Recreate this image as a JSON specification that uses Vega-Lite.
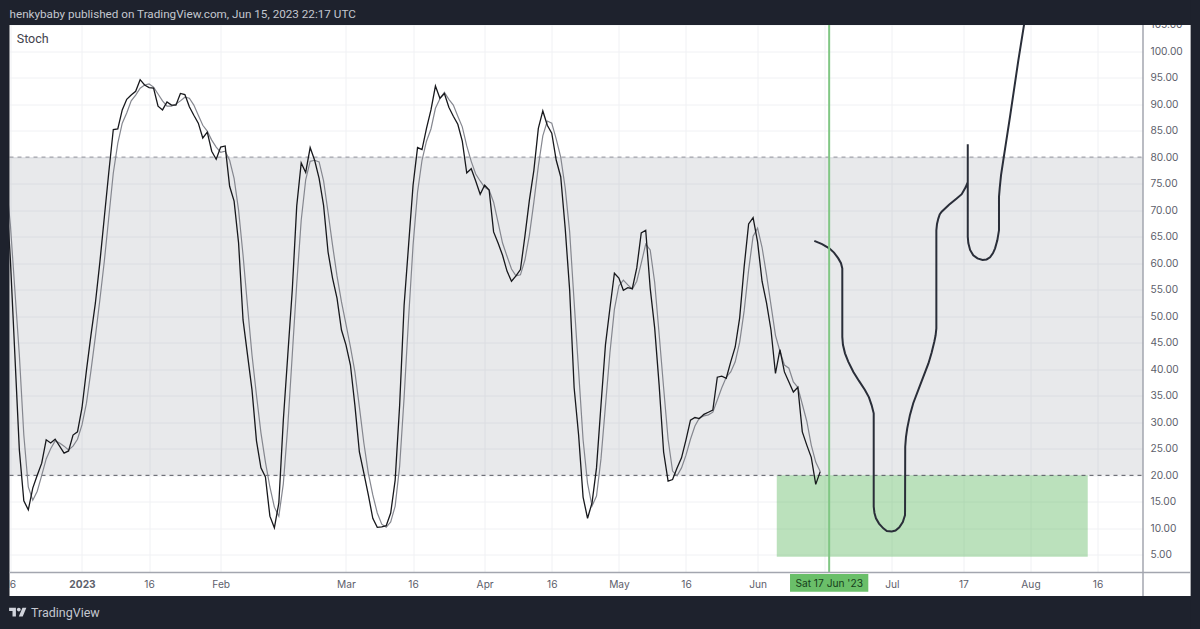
{
  "$schema": "https://vega.github.io/schema/vega-lite/v6.json",
  "description": "Hand drawn Stoch projection, TradingView snapshot",
  "background": "white",
  "autosize": "none",
  "padding": {"left": 9.5, "right": 57, "top": 24.5, "bottom": 56.5},
  "width": 1133.5,
  "height": 548,
  "config": {"view": {"stroke": null}, "text": {"font": "Roboto"}},
  "encoding": {
    "x": {"field": "date", "type": "temporal",
      "scale": {"type": "utc", "domain": ["2022-12-15T19:12:00Z", "2023-08-26T03:30:00Z"], "nice": false},
      "axis": {"title": null, "domain": false, "ticks": false, "gridColor": "#f0f1f4", "labelColor": "#5d606b", "labelFont": "Inter", "labelFontSize": 10.2, "labelPadding": 7, "labelOverlap": false, "labelFlush": false,
        "labelFontWeight": {"condition": {"test": "utcmonth(datum.value) == 0 && utcdate(datum.value) == 1", "value": "bold"}, "value": "normal"},
        "values": ["2022-12-16T00:00:00Z", "2023-01-01T00:00:00Z", "2023-01-16T00:00:00Z", "2023-02-01T00:00:00Z", "2023-03-01T00:00:00Z", "2023-03-16T00:00:00Z", "2023-04-01T00:00:00Z", "2023-04-16T00:00:00Z", "2023-05-01T00:00:00Z", "2023-05-16T00:00:00Z", "2023-06-01T00:00:00Z", "2023-06-16T00:00:00Z", "2023-07-01T00:00:00Z", "2023-07-17T00:00:00Z", "2023-08-01T00:00:00Z", "2023-08-16T00:00:00Z"],
        "labelExpr": "utcmonth(datum.value) == 5 && utcdate(datum.value) == 16 ? '' : utcdate(datum.value) > 1 ? utcFormat(datum.value, '%-d') : utcmonth(datum.value) == 0 ? utcFormat(datum.value, '%Y') : utcFormat(datum.value, '%b')"}},
    "y": {"field": "value", "type": "quantitative",
      "scale": {"domain": [1.68, 105], "nice": false, "zero": false},
      "axis": {"title": null, "orient": "right", "domain": false, "ticks": false, "gridColor": "#f0f1f4", "labelColor": "#5d606b", "labelFont": "Inter", "labelFontSize": 10.2, "labelPadding": 7, "labelOverlap": false, "labelBound": false, "format": ".2f",
        "values": [5, 10, 15, 20, 25, 30, 35, 40, 45, 50, 55, 60, 65, 70, 75, 80, 85, 90, 95, 100, 105]}}
  },
  "layer": [
    {
      "data": {"values": [{"date": "2022-12-15T19:12:00Z", "date2": "2023-08-26T03:30:00Z", "value": 20, "value2": 80}], "format": {"parse": {"date": "date", "date2": "date"}}},
      "mark": {"type": "rect", "color": "#787b86", "opacity": 0.17},
      "encoding": {"x2": {"field": "date2"}, "y2": {"field": "value2"}}
    },
    {
      "data": {"values": [{"date": "2023-06-05T07:00:00Z", "date2": "2023-08-13T19:00:00Z", "value": 4.66, "value2": 20}], "format": {"parse": {"date": "date", "date2": "date"}}},
      "mark": {"type": "rect", "color": "#4caf50", "opacity": 0.38},
      "encoding": {"x2": {"field": "date2"}, "y2": {"field": "value2"}}
    },
    {
      "data": {"values": [{"date": "2022-12-15T19:12:00Z", "date2": "2023-08-26T03:30:00Z", "value": 80}], "format": {"parse": {"date": "date", "date2": "date"}}},
      "mark": {"type": "rule", "color": "#8f9199", "strokeWidth": 1, "strokeDash": [4, 4]},
      "encoding": {"x2": {"field": "date2"}}
    },
    {
      "data": {"values": [{"date": "2022-12-15T19:12:00Z", "date2": "2023-08-26T03:30:00Z", "value": 20}], "format": {"parse": {"date": "date", "date2": "date"}}},
      "mark": {"type": "rule", "color": "#55575f", "strokeWidth": 1, "strokeDash": [4, 4]},
      "encoding": {"x2": {"field": "date2"}}
    },
    {
      "data": {"name": "stoch"},
      "transform": [{"fold": ["d"], "as": ["series", "value"]}],
      "mark": {"type": "line", "color": "#85878f", "strokeWidth": 1.2}
    },
    {
      "data": {"name": "stoch"},
      "transform": [{"fold": ["k"], "as": ["series", "value"]}],
      "mark": {"type": "line", "color": "#17181c", "strokeWidth": 1.3}
    },
    {
      "data": {"values": [
        {"i": 1, "date": "2023-06-13T16:20:00Z", "value": 64.2},
        {"i": 2, "date": "2023-06-15T10:00:00Z", "value": 63.6},
        {"i": 3, "date": "2023-06-17T00:45:00Z", "value": 62.8},
        {"i": 4, "date": "2023-06-18T02:00:00Z", "value": 62.0},
        {"i": 5, "date": "2023-06-19T01:00:00Z", "value": 60.9},
        {"i": 6, "date": "2023-06-19T15:30:00Z", "value": 60.0},
        {"i": 7, "date": "2023-06-19T22:30:00Z", "value": 59.0},
        {"i": 8, "date": "2023-06-19T22:30:00Z", "value": 46.1},
        {"i": 9, "date": "2023-06-20T02:00:00Z", "value": 44.6},
        {"i": 10, "date": "2023-06-20T13:00:00Z", "value": 43.0},
        {"i": 11, "date": "2023-06-21T07:00:00Z", "value": 41.4},
        {"i": 12, "date": "2023-06-22T10:00:00Z", "value": 39.5},
        {"i": 13, "date": "2023-06-23T16:00:00Z", "value": 37.8},
        {"i": 14, "date": "2023-06-25T00:00:00Z", "value": 36.1},
        {"i": 15, "date": "2023-06-25T21:30:00Z", "value": 34.7},
        {"i": 16, "date": "2023-06-26T12:00:00Z", "value": 33.2},
        {"i": 17, "date": "2023-06-26T23:00:00Z", "value": 31.7},
        {"i": 18, "date": "2023-06-26T23:00:00Z", "value": 14.1},
        {"i": 19, "date": "2023-06-27T03:00:00Z", "value": 12.9},
        {"i": 20, "date": "2023-06-27T11:00:00Z", "value": 11.9},
        {"i": 21, "date": "2023-06-28T03:30:00Z", "value": 10.9},
        {"i": 22, "date": "2023-06-29T02:30:00Z", "value": 10.0},
        {"i": 23, "date": "2023-06-29T21:30:00Z", "value": 9.5},
        {"i": 24, "date": "2023-07-01T00:00:00Z", "value": 9.4},
        {"i": 25, "date": "2023-07-01T20:00:00Z", "value": 9.6},
        {"i": 26, "date": "2023-07-02T16:30:00Z", "value": 10.2},
        {"i": 27, "date": "2023-07-03T11:00:00Z", "value": 11.2},
        {"i": 28, "date": "2023-07-03T23:00:00Z", "value": 12.5},
        {"i": 29, "date": "2023-07-04T00:00:00Z", "value": 25.4},
        {"i": 30, "date": "2023-07-04T04:00:00Z", "value": 27.2},
        {"i": 31, "date": "2023-07-04T11:00:00Z", "value": 28.9},
        {"i": 32, "date": "2023-07-05T01:30:00Z", "value": 31.4},
        {"i": 33, "date": "2023-07-05T19:00:00Z", "value": 33.6},
        {"i": 34, "date": "2023-07-07T10:00:00Z", "value": 37.2},
        {"i": 35, "date": "2023-07-09T04:30:00Z", "value": 41.1},
        {"i": 36, "date": "2023-07-09T21:30:00Z", "value": 43.1},
        {"i": 37, "date": "2023-07-10T12:00:00Z", "value": 45.2},
        {"i": 38, "date": "2023-07-10T19:00:00Z", "value": 46.4},
        {"i": 39, "date": "2023-07-10T23:00:00Z", "value": 47.7},
        {"i": 40, "date": "2023-07-10T23:00:00Z", "value": 66.2},
        {"i": 41, "date": "2023-07-11T02:30:00Z", "value": 67.4},
        {"i": 42, "date": "2023-07-11T09:30:00Z", "value": 68.4},
        {"i": 43, "date": "2023-07-11T17:00:00Z", "value": 69.2},
        {"i": 44, "date": "2023-07-12T03:30:00Z", "value": 69.7},
        {"i": 45, "date": "2023-07-13T19:00:00Z", "value": 71.0},
        {"i": 46, "date": "2023-07-15T12:00:00Z", "value": 72.2},
        {"i": 47, "date": "2023-07-16T15:00:00Z", "value": 73.0},
        {"i": 48, "date": "2023-07-17T12:00:00Z", "value": 74.3},
        {"i": 49, "date": "2023-07-17T23:30:00Z", "value": 75.3},
        {"i": 50, "date": "2023-07-17T23:30:00Z", "value": 82.4},
        {"i": 51, "date": "2023-07-17T23:30:00Z", "value": 65.0},
        {"i": 52, "date": "2023-07-18T02:30:00Z", "value": 63.8},
        {"i": 53, "date": "2023-07-18T12:00:00Z", "value": 62.5},
        {"i": 54, "date": "2023-07-19T05:00:00Z", "value": 61.5},
        {"i": 55, "date": "2023-07-20T03:30:00Z", "value": 60.9},
        {"i": 56, "date": "2023-07-21T07:00:00Z", "value": 60.6},
        {"i": 57, "date": "2023-07-22T04:30:00Z", "value": 60.7},
        {"i": 58, "date": "2023-07-22T23:00:00Z", "value": 61.1},
        {"i": 59, "date": "2023-07-23T15:00:00Z", "value": 61.9},
        {"i": 60, "date": "2023-07-24T02:00:00Z", "value": 62.8},
        {"i": 61, "date": "2023-07-24T14:00:00Z", "value": 64.3},
        {"i": 62, "date": "2023-07-24T23:00:00Z", "value": 66.2},
        {"i": 63, "date": "2023-07-24T23:00:00Z", "value": 72.5},
        {"i": 64, "date": "2023-07-25T03:00:00Z", "value": 74.2},
        {"i": 65, "date": "2023-07-25T10:00:00Z", "value": 76.6},
        {"i": 66, "date": "2023-07-25T22:00:00Z", "value": 79.4},
        {"i": 67, "date": "2023-07-27T10:00:00Z", "value": 87.6},
        {"i": 68, "date": "2023-07-29T07:00:00Z", "value": 98.3},
        {"i": 69, "date": "2023-07-31T02:00:00Z", "value": 107.7}
      ]},
      "mark": {"type": "line", "color": "#2a2e39", "strokeWidth": 2},
      "encoding": {"order": {"field": "i", "type": "quantitative"}}
    },
    {
      "data": {"values": [{"date": "2023-06-17T00:00:00Z", "value": 1.68, "value2": 104.9}]},
      "mark": {"type": "rule", "color": "#81c784", "strokeWidth": 2},
      "encoding": {"y2": {"field": "value2"}}
    },
    {
      "data": {"values": [
        {"date": "2022-12-13T05:00:00Z", "date2": "2023-09-08T00:00:00Z", "value": 104.9, "value2": 110},
        {"date": "2022-12-13T05:00:00Z", "date2": "2023-09-08T00:00:00Z", "value": -9.35, "value2": -2.75},
        {"date": "2022-12-13T05:00:00Z", "date2": "2022-12-15T19:12:00Z", "value": -9.35, "value2": 110},
        {"date": "2023-09-05T19:00:00Z", "date2": "2023-09-08T00:00:00Z", "value": -9.35, "value2": 110}
      ], "format": {"parse": {"date": "date", "date2": "date"}}},
      "mark": {"type": "rect", "color": "#1e222d"},
      "encoding": {"x2": {"field": "date2"}, "y2": {"field": "value2"}}
    },
    {
      "data": {"values": [
        {"date": "2023-08-26T03:30:00Z", "date2": "2023-08-26T03:30:00Z", "value": -2.75, "value2": 104.9},
        {"date": "2022-12-15T19:12:00Z", "date2": "2023-09-05T19:00:00Z", "value": 1.68, "value2": 1.68}
      ], "format": {"parse": {"date": "date", "date2": "date"}}},
      "mark": {"type": "rule", "color": "#a3a6af", "strokeWidth": 1.5},
      "encoding": {"x2": {"field": "date2"}, "y2": {"field": "value2"}}
    },
    {
      "data": {"values": [{"date": "2023-06-08T06:00:00Z", "date2": "2023-06-25T18:00:00Z", "value": 1.4, "value2": -1.94}], "format": {"parse": {"date": "date", "date2": "date"}}},
      "mark": {"type": "rect", "color": "#6abf69"},
      "encoding": {"x2": {"field": "date2"}, "y2": {"field": "value2"}}
    },
    {
      "data": {"values": [{"date": "2023-06-17T00:00:00Z", "value": -0.58, "label": "Sat 17 Jun '23"}]},
      "mark": {"type": "text", "color": "#17401b", "font": "Inter", "fontSize": 10.2, "align": "center", "baseline": "middle"},
      "encoding": {"text": {"field": "label"}}
    },
    {
      "data": {"values": [{"date": "2022-12-17T10:00:00Z", "value": 102.2, "label": "Stoch"}]},
      "mark": {"type": "text", "color": "#3f424c", "fontSize": 12.5, "align": "left", "baseline": "middle"},
      "encoding": {"text": {"field": "label"}}
    },
    {
      "data": {"values": [{"date": "2022-12-15T19:12:00Z", "value": 107.0, "label": "henkybaby published on TradingView.com, Jun 15, 2023 22:17 UTC"}]},
      "mark": {"type": "text", "color": "#c4c7cf", "fontSize": 11.7, "align": "left", "baseline": "middle"},
      "encoding": {"text": {"field": "label"}}
    },
    {
      "data": {"values": [{"date": "2022-12-20T14:00:00Z", "value": -5.96, "label": "TradingView"}]},
      "mark": {"type": "text", "color": "#c4c7cf", "fontSize": 12.5, "align": "left", "baseline": "middle"},
      "encoding": {"text": {"field": "label"}}
    },
    {
      "data": {"values": [{"date": "2022-12-17T16:00:00Z", "value": -5.77}]},
      "mark": {"type": "point", "filled": true, "opacity": 1, "color": "#d1d4dc", "size": 306, "shape": "M-0.222 0.5H-0.611V-0.111H-1V-0.5H-0.222ZM0.556 0.5H0.111L0.528 -0.5H0.972ZM-0.111 -0.278a0.222 0.222 0 1 0 0.444 0a0.222 0.222 0 1 0 -0.444 0Z"}
    }
  ],
  "datasets": {
    "stoch": [
      {"date": "2022-12-15", "k": 74.7, "d": 75.7},
      {"date": "2022-12-16", "k": 60.6, "d": 67.2},
      {"date": "2022-12-17", "k": 42.7, "d": 54.9},
      {"date": "2022-12-18", "k": 24.8, "d": 42.7},
      {"date": "2022-12-19", "k": 15.2, "d": 27.6},
      {"date": "2022-12-20", "k": 13.5, "d": 17.8},
      {"date": "2022-12-21", "k": 17.6, "d": 15.3},
      {"date": "2022-12-22", "k": 20.0, "d": 17.0},
      {"date": "2022-12-23", "k": 22.3, "d": 20.0},
      {"date": "2022-12-24", "k": 26.7, "d": 23.1},
      {"date": "2022-12-25", "k": 26.1, "d": 25.0},
      {"date": "2022-12-26", "k": 26.8, "d": 26.5},
      {"date": "2022-12-27", "k": 25.5, "d": 26.1},
      {"date": "2022-12-28", "k": 24.2, "d": 25.5},
      {"date": "2022-12-29", "k": 24.6, "d": 24.8},
      {"date": "2022-12-30", "k": 27.6, "d": 25.5},
      {"date": "2022-12-31", "k": 28.2, "d": 26.8},
      {"date": "2023-01-01", "k": 32.7, "d": 29.5},
      {"date": "2023-01-02", "k": 39.8, "d": 33.6},
      {"date": "2023-01-03", "k": 46.4, "d": 39.7},
      {"date": "2023-01-04", "k": 52.5, "d": 46.2},
      {"date": "2023-01-05", "k": 60.2, "d": 53.1},
      {"date": "2023-01-06", "k": 68.7, "d": 60.4},
      {"date": "2023-01-07", "k": 77.2, "d": 68.7},
      {"date": "2023-01-08", "k": 85.2, "d": 77.0},
      {"date": "2023-01-09", "k": 85.3, "d": 82.6},
      {"date": "2023-01-10", "k": 88.9, "d": 86.4},
      {"date": "2023-01-11", "k": 90.9, "d": 88.3},
      {"date": "2023-01-12", "k": 91.7, "d": 90.6},
      {"date": "2023-01-13", "k": 92.4, "d": 91.7},
      {"date": "2023-01-14", "k": 94.6, "d": 93.0},
      {"date": "2023-01-15", "k": 93.6, "d": 93.6},
      {"date": "2023-01-16", "k": 93.1, "d": 93.8},
      {"date": "2023-01-17", "k": 93.0, "d": 93.2},
      {"date": "2023-01-18", "k": 89.6, "d": 91.9},
      {"date": "2023-01-19", "k": 88.9, "d": 90.6},
      {"date": "2023-01-20", "k": 90.4, "d": 89.6},
      {"date": "2023-01-21", "k": 89.8, "d": 89.6},
      {"date": "2023-01-22", "k": 89.8, "d": 90.0},
      {"date": "2023-01-23", "k": 92.0, "d": 90.6},
      {"date": "2023-01-24", "k": 91.8, "d": 91.3},
      {"date": "2023-01-25", "k": 89.5, "d": 91.1},
      {"date": "2023-01-26", "k": 87.9, "d": 89.8},
      {"date": "2023-01-27", "k": 86.4, "d": 87.9},
      {"date": "2023-01-28", "k": 83.6, "d": 86.0},
      {"date": "2023-01-29", "k": 84.7, "d": 84.9},
      {"date": "2023-01-30", "k": 81.1, "d": 83.2},
      {"date": "2023-01-31", "k": 79.6, "d": 81.9},
      {"date": "2023-02-01", "k": 81.9, "d": 80.9},
      {"date": "2023-02-02", "k": 82.1, "d": 81.1},
      {"date": "2023-02-03", "k": 74.5, "d": 79.4},
      {"date": "2023-02-04", "k": 71.7, "d": 76.0},
      {"date": "2023-02-05", "k": 63.8, "d": 70.0},
      {"date": "2023-02-06", "k": 49.3, "d": 61.5},
      {"date": "2023-02-07", "k": 42.7, "d": 51.9},
      {"date": "2023-02-08", "k": 36.1, "d": 42.7},
      {"date": "2023-02-09", "k": 26.5, "d": 35.1},
      {"date": "2023-02-10", "k": 21.4, "d": 28.0},
      {"date": "2023-02-11", "k": 19.7, "d": 22.5},
      {"date": "2023-02-12", "k": 12.3, "d": 17.8},
      {"date": "2023-02-13", "k": 10.1, "d": 14.0},
      {"date": "2023-02-14", "k": 14.8, "d": 12.3},
      {"date": "2023-02-15", "k": 30.4, "d": 18.4},
      {"date": "2023-02-16", "k": 42.7, "d": 29.3},
      {"date": "2023-02-17", "k": 54.9, "d": 42.7},
      {"date": "2023-02-18", "k": 70.8, "d": 56.1},
      {"date": "2023-02-19", "k": 78.9, "d": 68.1},
      {"date": "2023-02-20", "k": 77.1, "d": 75.7},
      {"date": "2023-02-21", "k": 81.8, "d": 79.2},
      {"date": "2023-02-22", "k": 79.4, "d": 79.4},
      {"date": "2023-02-23", "k": 76.0, "d": 79.1},
      {"date": "2023-02-24", "k": 70.9, "d": 75.5},
      {"date": "2023-02-25", "k": 62.1, "d": 69.6},
      {"date": "2023-02-26", "k": 57.2, "d": 63.4},
      {"date": "2023-02-27", "k": 53.4, "d": 57.6},
      {"date": "2023-02-28", "k": 47.4, "d": 52.7},
      {"date": "2023-03-01", "k": 44.6, "d": 48.5},
      {"date": "2023-03-02", "k": 40.8, "d": 44.2},
      {"date": "2023-03-03", "k": 33.2, "d": 39.5},
      {"date": "2023-03-04", "k": 24.4, "d": 32.9},
      {"date": "2023-03-05", "k": 20.4, "d": 26.1},
      {"date": "2023-03-06", "k": 16.3, "d": 20.4},
      {"date": "2023-03-07", "k": 11.9, "d": 16.3},
      {"date": "2023-03-08", "k": 10.2, "d": 12.9},
      {"date": "2023-03-09", "k": 10.3, "d": 10.8},
      {"date": "2023-03-10", "k": 10.5, "d": 10.2},
      {"date": "2023-03-11", "k": 12.9, "d": 11.2},
      {"date": "2023-03-12", "k": 19.1, "d": 14.2},
      {"date": "2023-03-13", "k": 33.2, "d": 21.7},
      {"date": "2023-03-14", "k": 52.1, "d": 34.7},
      {"date": "2023-03-15", "k": 63.4, "d": 49.6},
      {"date": "2023-03-16", "k": 74.7, "d": 63.4},
      {"date": "2023-03-17", "k": 81.8, "d": 73.4},
      {"date": "2023-03-18", "k": 81.4, "d": 79.4},
      {"date": "2023-03-19", "k": 85.4, "d": 83.0},
      {"date": "2023-03-20", "k": 88.9, "d": 85.3},
      {"date": "2023-03-21", "k": 93.4, "d": 89.2},
      {"date": "2023-03-22", "k": 91.1, "d": 91.0},
      {"date": "2023-03-23", "k": 92.0, "d": 92.2},
      {"date": "2023-03-24", "k": 89.4, "d": 90.9},
      {"date": "2023-03-25", "k": 87.7, "d": 89.8},
      {"date": "2023-03-26", "k": 86.2, "d": 87.7},
      {"date": "2023-03-27", "k": 83.0, "d": 85.7},
      {"date": "2023-03-28", "k": 77.0, "d": 82.1},
      {"date": "2023-03-29", "k": 77.8, "d": 79.2},
      {"date": "2023-03-30", "k": 75.5, "d": 76.8},
      {"date": "2023-03-31", "k": 73.0, "d": 75.5},
      {"date": "2023-04-01", "k": 74.7, "d": 74.3},
      {"date": "2023-04-02", "k": 73.8, "d": 73.8},
      {"date": "2023-04-03", "k": 65.9, "d": 71.5},
      {"date": "2023-04-04", "k": 63.8, "d": 67.7},
      {"date": "2023-04-05", "k": 61.5, "d": 63.8},
      {"date": "2023-04-06", "k": 58.5, "d": 61.3},
      {"date": "2023-04-07", "k": 56.6, "d": 58.9},
      {"date": "2023-04-08", "k": 57.6, "d": 57.6},
      {"date": "2023-04-09", "k": 58.8, "d": 57.8},
      {"date": "2023-04-10", "k": 65.1, "d": 60.6},
      {"date": "2023-04-11", "k": 71.9, "d": 65.3},
      {"date": "2023-04-12", "k": 77.5, "d": 71.5},
      {"date": "2023-04-13", "k": 85.4, "d": 78.3},
      {"date": "2023-04-14", "k": 88.7, "d": 84.0},
      {"date": "2023-04-15", "k": 86.0, "d": 86.8},
      {"date": "2023-04-16", "k": 84.5, "d": 86.4},
      {"date": "2023-04-17", "k": 79.4, "d": 83.4},
      {"date": "2023-04-18", "k": 76.3, "d": 80.0},
      {"date": "2023-04-19", "k": 66.6, "d": 74.2},
      {"date": "2023-04-20", "k": 54.9, "d": 65.9},
      {"date": "2023-04-21", "k": 36.5, "d": 52.7},
      {"date": "2023-04-22", "k": 27.6, "d": 39.7},
      {"date": "2023-04-23", "k": 15.9, "d": 26.7},
      {"date": "2023-04-24", "k": 11.9, "d": 18.5},
      {"date": "2023-04-25", "k": 14.8, "d": 14.2},
      {"date": "2023-04-26", "k": 21.4, "d": 16.1},
      {"date": "2023-04-27", "k": 33.2, "d": 23.1},
      {"date": "2023-04-28", "k": 44.6, "d": 33.1},
      {"date": "2023-04-29", "k": 51.5, "d": 43.1},
      {"date": "2023-04-30", "k": 58.1, "d": 51.3},
      {"date": "2023-05-01", "k": 57.2, "d": 55.7},
      {"date": "2023-05-02", "k": 54.9, "d": 56.8},
      {"date": "2023-05-03", "k": 55.4, "d": 55.9},
      {"date": "2023-05-04", "k": 55.2, "d": 55.1},
      {"date": "2023-05-05", "k": 59.1, "d": 56.6},
      {"date": "2023-05-06", "k": 65.7, "d": 60.0},
      {"date": "2023-05-07", "k": 66.2, "d": 63.6},
      {"date": "2023-05-08", "k": 55.3, "d": 62.5},
      {"date": "2023-05-09", "k": 47.8, "d": 56.4},
      {"date": "2023-05-10", "k": 37.0, "d": 46.6},
      {"date": "2023-05-11", "k": 24.4, "d": 36.5},
      {"date": "2023-05-12", "k": 18.9, "d": 26.8},
      {"date": "2023-05-13", "k": 19.2, "d": 20.8},
      {"date": "2023-05-14", "k": 21.4, "d": 19.9},
      {"date": "2023-05-15", "k": 23.3, "d": 21.4},
      {"date": "2023-05-16", "k": 26.7, "d": 23.8},
      {"date": "2023-05-17", "k": 30.4, "d": 26.8},
      {"date": "2023-05-18", "k": 30.9, "d": 29.3},
      {"date": "2023-05-19", "k": 30.7, "d": 30.8},
      {"date": "2023-05-20", "k": 31.5, "d": 31.2},
      {"date": "2023-05-21", "k": 31.9, "d": 31.4},
      {"date": "2023-05-22", "k": 32.3, "d": 31.9},
      {"date": "2023-05-23", "k": 38.5, "d": 34.2},
      {"date": "2023-05-24", "k": 38.7, "d": 36.5},
      {"date": "2023-05-25", "k": 38.3, "d": 38.5},
      {"date": "2023-05-26", "k": 41.4, "d": 39.5},
      {"date": "2023-05-27", "k": 44.2, "d": 41.4},
      {"date": "2023-05-28", "k": 49.7, "d": 45.1},
      {"date": "2023-05-29", "k": 59.3, "d": 51.0},
      {"date": "2023-05-30", "k": 67.4, "d": 58.7},
      {"date": "2023-05-31", "k": 68.6, "d": 65.1},
      {"date": "2023-06-01", "k": 64.0, "d": 66.6},
      {"date": "2023-06-02", "k": 56.6, "d": 63.0},
      {"date": "2023-06-03", "k": 52.5, "d": 57.8},
      {"date": "2023-06-04", "k": 47.4, "d": 52.1},
      {"date": "2023-06-05", "k": 39.2, "d": 46.4},
      {"date": "2023-06-06", "k": 43.7, "d": 43.4},
      {"date": "2023-06-07", "k": 39.5, "d": 40.8},
      {"date": "2023-06-08", "k": 37.6, "d": 40.2},
      {"date": "2023-06-09", "k": 35.7, "d": 37.6},
      {"date": "2023-06-10", "k": 36.6, "d": 36.6},
      {"date": "2023-06-11", "k": 28.2, "d": 33.4},
      {"date": "2023-06-12", "k": 25.7, "d": 30.2},
      {"date": "2023-06-13", "k": 23.4, "d": 25.7},
      {"date": "2023-06-14", "k": 18.3, "d": 22.5},
      {"date": "2023-06-15", "k": 20.7, "d": 20.7}
    ]
  }
}
